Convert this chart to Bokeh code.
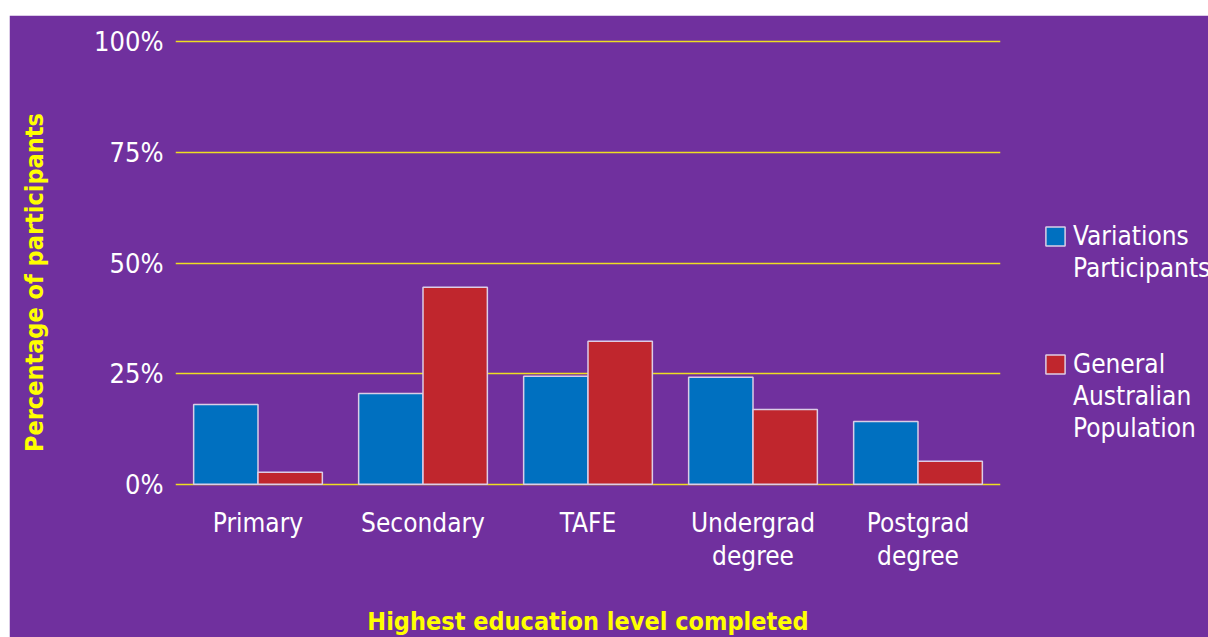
from bokeh.plotting import figure
from bokeh.models import FactorRange, FixedTicker, Legend, LegendItem, ColumnDataSource, Spacer
from bokeh.layouts import column, row
from bokeh.transform import dodge
from bokeh.embed import file_html
from bokeh.resources import INLINE

label_line1 = ["Primary", "Secondary", "TAFE", "Undergrad", "Postgrad"]
label_line2 = ["", "", "", "degree", "degree"]
participants = [18.0, 20.5, 24.4, 24.2, 14.2]
general_pop = [2.7, 44.5, 32.3, 16.9, 5.2]
y_ticks = [0, 25, 50, 75, 100]
y_tick_labels = ["0%", "25%", "50%", "75%", "100%"]
series_a_lines = ["Variations", "Participants"]
series_b_lines = ["General", "Australian", "Population"]

PURPLE = "#70309E"
FONT = "DejaVu Sans Condensed"

# two-row category labels: (second line, first line); second line made unique with zero-width spaces
factors = [(l2 + "\u200b" * i, l1) for i, (l1, l2) in enumerate(zip(label_line1, label_line2))]
src = ColumnDataSource(dict(cat=factors, a=participants, b=general_pop))

p = figure(x_range=FactorRange(*factors, range_padding=0, group_padding=0, factor_padding=0),
           y_range=(-0.5, 100.5),
           frame_width=825, frame_height=447,
           min_border_left=166, min_border_right=208, min_border_top=24, min_border_bottom=151,
           output_backend="svg", toolbar_location=None,
           background_fill_color=PURPLE, border_fill_color=PURPLE,
           outline_line_color=PURPLE, outline_line_width=2)

r1 = p.vbar(x=dodge("cat", -0.195, range=p.x_range), top="a", width=0.39, source=src,
            fill_color="#0070C0", line_color="#DCCDE6", line_width=1.5)
r2 = p.vbar(x=dodge("cat", 0.195, range=p.x_range), top="b", width=0.39, source=src,
            fill_color="#C0262D", line_color="#DCCDE6", line_width=1.5)
dummy = p.scatter(x=[], y=[], size=1, fill_alpha=0, line_alpha=0)

p.xgrid.grid_line_color = None
p.ygrid.grid_line_color = "#EEDD22"
p.ygrid.grid_line_width = 1.3
p.ygrid.ticker = FixedTicker(ticks=y_ticks)

p.yaxis.ticker = FixedTicker(ticks=y_ticks)
p.yaxis.major_label_overrides = {t: l for t, l in zip(y_ticks, y_tick_labels)}

for ax in (p.xaxis[0], p.yaxis[0]):
    ax.axis_line_color = None
    ax.major_tick_line_color = None
    ax.minor_tick_line_color = None
    ax.major_label_text_color = "white"
    ax.major_label_text_font = FONT
    ax.major_label_text_font_size = "26px"
    ax.axis_label_text_color = "#FFFF00"
    ax.axis_label_text_font = FONT
    ax.axis_label_text_font_style = "bold"
    ax.axis_label_text_font_size = "25px"

xa = p.xaxis[0]
xa.group_text_color = "white"
xa.group_text_font = FONT
xa.group_text_font_size = "26px"
xa.group_text_font_style = "normal"
xa.separator_line_color = None
xa.major_tick_in = 0
xa.major_tick_out = 21
xa.major_label_standoff = 0
xa.axis_label = "Highest education level completed"
xa.axis_label_standoff = 33

p.yaxis.major_label_text_font_size = "27px"
p.yaxis.axis_label = "Percentage of participants" + "\u00a0" * 5
p.yaxis.major_label_standoff = 6
p.yaxis.axis_label_standoff = 42

items = [LegendItem(label=series_a_lines[0], renderers=[r1])]
items += [LegendItem(label=t, renderers=[dummy]) for t in series_a_lines[1:]]
items += [LegendItem(label=" ", renderers=[dummy]), LegendItem(label="  ", renderers=[dummy])]
items += [LegendItem(label=series_b_lines[0], renderers=[r2])]
items += [LegendItem(label=t, renderers=[dummy]) for t in series_b_lines[1:]]

legend = Legend(items=items, location=(43, 42),
                background_fill_alpha=0, border_line_alpha=0,
                label_text_color="white", label_text_font=FONT, label_text_font_size="26px",
                glyph_width=24, glyph_height=24, label_height=32, spacing=0, padding=0, margin=0,
                label_standoff=6)
p.add_layout(legend, "right")

layout = column(Spacer(height=15), row(Spacer(width=9), p))
open("out.html", "w").write(file_html(layout, INLINE))
